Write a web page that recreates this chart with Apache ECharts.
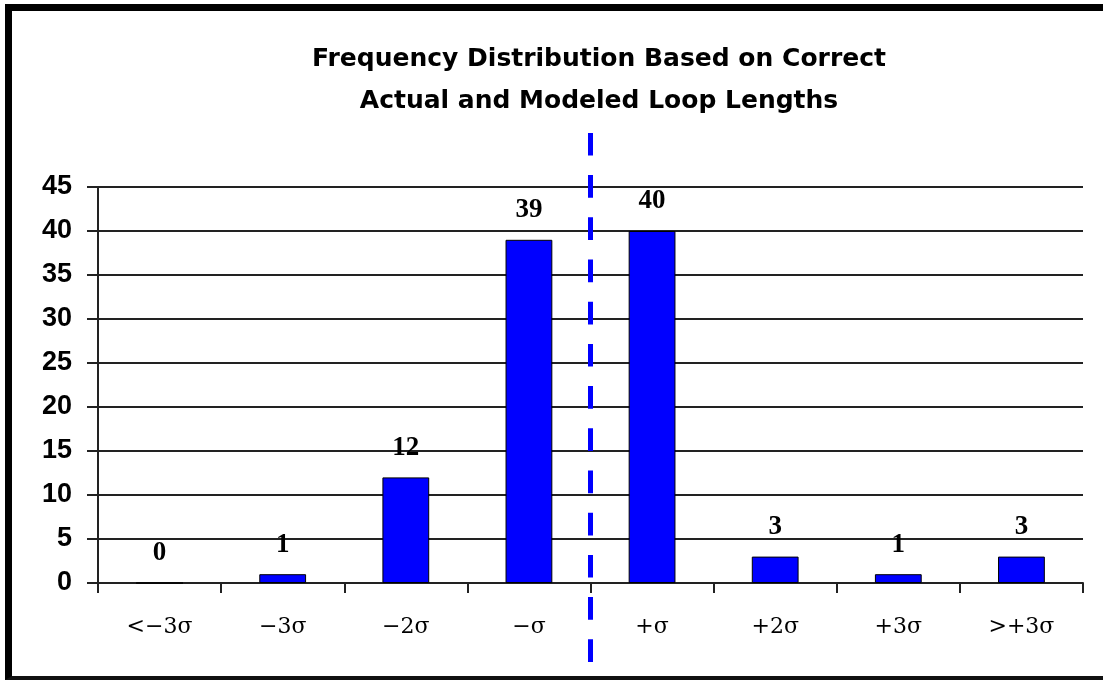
<!DOCTYPE html>
<html>
<head>
<meta charset="utf-8">
<script src="https://cdn.jsdelivr.net/npm/echarts@6/dist/echarts.min.js"></script>
<style>
html,body{margin:0;padding:0;background:#fff;}
#wrap{position:relative;width:1103px;height:686px;}
#chart{position:absolute;left:0;top:0;width:1103px;height:686px;}
#frame{position:absolute;left:5px;top:4px;width:1098px;height:676px;border-left:7px solid #000;border-top:7px solid #000;border-bottom:4px solid #111;box-sizing:border-box;pointer-events:none;}
</style>
</head>
<body>
<div id="wrap"><div id="chart"></div><div id="frame"></div></div>
<script>
const titleText = "Frequency Distribution Based on Correct\nActual and Modeled Loop Lengths";
const categories = ["<\u22123\u03c3", "\u22123\u03c3", "\u22122\u03c3", "\u2212\u03c3", "+\u03c3", "+2\u03c3", "+3\u03c3", ">+3\u03c3"];
const counts = [0, 1, 12, 39, 40, 3, 1, 3];
const yTicks = [0, 5, 10, 15, 20, 25, 30, 35, 40, 45];
const meanLinePosition = 4; // boundary between -σ and +σ (in category units 0..8)
const meanLineData = [[meanLinePosition, 0], [meanLinePosition, 1]];

const chart = echarts.init(document.getElementById('chart'));
chart.setOption({
  animation: false,
  backgroundColor: '#fff',
  title: {
    text: titleText,
    left: 594,
    textAlign: 'center',
    top: 33,
    textStyle: {fontFamily: 'DejaVu Sans, Liberation Sans', fontWeight: 'bold', fontSize: 25, lineHeight: 42, color: '#000'}
  },
  grid: [
    {left: 98, right: 20, top: 187, bottom: 103},
    {left: 98, right: 20, top: 133, bottom: 24}
  ],
  xAxis: [
    {
      type: 'category', data: categories, gridIndex: 0, boundaryGap: true,
      axisLine: {lineStyle: {color: '#222', width: 2}},
      axisTick: {show: true, length: 10, lineStyle: {color: '#222', width: 2}},
      axisLabel: {margin: 33, fontFamily: 'DejaVu Serif, Liberation Serif', fontSize: 22, color: '#000'}
    },
    {type: 'value', gridIndex: 1, min: 0, max: categories.length, show: false}
  ],
  yAxis: [
    {
      type: 'value', gridIndex: 0, min: yTicks[0], max: yTicks[yTicks.length - 1], interval: 5,
      axisLine: {show: true, lineStyle: {color: '#222', width: 2}},
      axisTick: {show: true, length: 11, lineStyle: {color: '#222', width: 2}},
      splitLine: {lineStyle: {color: '#222', width: 2}},
      axisLabel: {margin: 26, fontFamily: 'Liberation Sans, Arial', fontWeight: 'bold', fontSize: 27, color: '#000'}
    },
    {type: 'value', gridIndex: 1, min: 0, max: 1, show: false}
  ],
  series: [
    {
      type: 'bar', data: counts, xAxisIndex: 0, yAxisIndex: 0, barWidth: '38%',
      itemStyle: {color: '#0000ff', borderColor: '#000', borderWidth: 1},
      label: {show: true, position: 'top', distance: 16, fontFamily: 'Liberation Serif, Times New Roman', fontWeight: 'bold', fontSize: 27, color: '#000'}
    },
    {
      type: 'line', data: meanLineData, xAxisIndex: 1, yAxisIndex: 1, symbol: 'none',
      lineStyle: {color: '#0000ff', width: 5, type: [22.7, 19.5]}, z: 10
    }
  ]
});
</script>
</body>
</html>
